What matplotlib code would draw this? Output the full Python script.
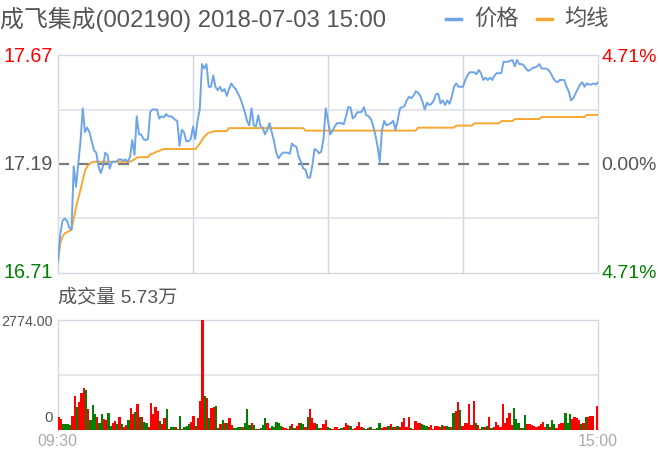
import matplotlib
matplotlib.use("Agg")
import matplotlib.pyplot as plt

plt.rcParams['font.family'] = ['Liberation Sans', 'Noto Sans CJK SC', 'DejaVu Sans']

W, H = 659, 457

title = "成飞集成(002190) 2018-07-03 15:00"
legend_labels = ["价格", "均线"]
pre_close = 17.19
y_max, y_min = 17.67, 16.71
left_labels = ["17.67", "17.19", "16.71"]
right_labels = ["4.71%", "0.00%", "4.71%"]
vol_title = "成交量 5.73万"
vol_max_label = "2774.00"
vol_max = 2774.0
time_labels = ["09:30", "15:00"]

price = [
    16.76, 16.88, 16.94, 16.95, 16.94, 16.91, 16.90, 17.18, 17.09, 17.19,
    17.29, 17.435, 17.33, 17.35, 17.33, 17.29, 17.25, 17.24, 17.18, 17.15,
    17.18, 17.24, 17.23, 17.17, 17.20, 17.20, 17.20, 17.21, 17.21, 17.205,
    17.21, 17.20, 17.22, 17.295, 17.23, 17.40, 17.32, 17.32, 17.30, 17.295,
    17.30, 17.42, 17.43, 17.43, 17.43, 17.39, 17.40, 17.395, 17.41, 17.40,
    17.40, 17.395, 17.385, 17.38, 17.27, 17.34, 17.33, 17.29, 17.29, 17.30,
    17.355, 17.30, 17.38, 17.43, 17.63, 17.61, 17.63, 17.53, 17.53, 17.58,
    17.53, 17.515, 17.53, 17.51, 17.52, 17.49, 17.52, 17.545, 17.53, 17.52,
    17.50, 17.48, 17.45, 17.42, 17.38, 17.36, 17.435, 17.36, 17.355, 17.405,
    17.355, 17.35, 17.32, 17.34, 17.37, 17.33, 17.29, 17.24, 17.215, 17.23,
    17.24, 17.24, 17.24, 17.235, 17.28, 17.27, 17.265, 17.22, 17.20, 17.17,
    17.165, 17.13, 17.13, 17.18, 17.256, 17.25, 17.237, 17.245, 17.30, 17.435,
    17.38, 17.32, 17.335, 17.355, 17.37, 17.37, 17.37, 17.365, 17.40, 17.44,
    17.44, 17.39, 17.40, 17.418, 17.418, 17.42, 17.44, 17.405, 17.40, 17.39,
    17.36, 17.32, 17.27, 17.20, 17.34, 17.38, 17.36, 17.365, 17.37, 17.38,
    17.34, 17.384, 17.435, 17.44, 17.445, 17.47, 17.486, 17.48, 17.49, 17.51,
    17.505, 17.49, 17.464, 17.43, 17.46, 17.45, 17.455, 17.47, 17.497, 17.50,
    17.457, 17.47, 17.45, 17.47, 17.455, 17.486, 17.53, 17.545, 17.53, 17.53,
    17.53, 17.56, 17.58, 17.594, 17.594, 17.594, 17.585, 17.604, 17.59, 17.56,
    17.57, 17.56, 17.57, 17.56, 17.58, 17.59, 17.59, 17.59, 17.64, 17.64,
    17.64, 17.645, 17.648, 17.62, 17.648, 17.63, 17.63, 17.625, 17.61, 17.60,
    17.605, 17.614, 17.615, 17.62, 17.63, 17.61, 17.61, 17.61, 17.604, 17.59,
    17.57, 17.555, 17.55, 17.56, 17.56, 17.56, 17.53, 17.51, 17.47, 17.48,
    17.50, 17.52, 17.54, 17.55, 17.53, 17.545, 17.54, 17.54, 17.545, 17.54,
    17.55,
]

avg = [
    16.76, 16.84, 16.87, 16.885, 16.89, 16.895, 16.90, 16.95, 17.00, 17.04,
    17.075, 17.12, 17.16, 17.18, 17.19, 17.197, 17.20, 17.20, 17.20, 17.20,
    17.20, 17.20, 17.20, 17.20, 17.20, 17.20, 17.20, 17.20, 17.20, 17.20,
    17.20, 17.20, 17.20, 17.205, 17.21, 17.218, 17.22, 17.22, 17.22, 17.22,
    17.22, 17.233, 17.235, 17.24, 17.245, 17.248, 17.252, 17.256, 17.256, 17.256,
    17.256, 17.256, 17.256, 17.256, 17.256, 17.256, 17.256, 17.256, 17.256, 17.256,
    17.256, 17.256, 17.266, 17.28, 17.295, 17.31, 17.32, 17.328, 17.33, 17.333,
    17.335, 17.335, 17.335, 17.335, 17.335, 17.335, 17.348, 17.348, 17.348, 17.348,
    17.348, 17.348, 17.348, 17.348, 17.348, 17.348, 17.348, 17.348, 17.348, 17.348,
    17.348, 17.348, 17.348, 17.348, 17.348, 17.348, 17.348, 17.348, 17.348, 17.348,
    17.348, 17.348, 17.348, 17.348, 17.348, 17.348, 17.348, 17.348, 17.348, 17.348,
    17.337, 17.337, 17.337, 17.337, 17.337, 17.337, 17.337, 17.337, 17.337, 17.337,
    17.337, 17.337, 17.337, 17.337, 17.337, 17.337, 17.337, 17.337, 17.337, 17.337,
    17.337, 17.337, 17.337, 17.337, 17.337, 17.337, 17.337, 17.337, 17.337, 17.337,
    17.337, 17.337, 17.337, 17.337, 17.337, 17.337, 17.337, 17.337, 17.337, 17.337,
    17.337, 17.337, 17.337, 17.337, 17.337, 17.337, 17.337, 17.337, 17.337, 17.337,
    17.35, 17.35, 17.35, 17.35, 17.35, 17.35, 17.35, 17.35, 17.35, 17.35,
    17.35, 17.35, 17.35, 17.35, 17.35, 17.35, 17.35, 17.359, 17.359, 17.359,
    17.359, 17.359, 17.359, 17.359, 17.359, 17.369, 17.369, 17.369, 17.369, 17.369,
    17.369, 17.369, 17.369, 17.369, 17.369, 17.369, 17.369, 17.379, 17.379, 17.379,
    17.379, 17.379, 17.379, 17.388, 17.388, 17.388, 17.388, 17.388, 17.388, 17.388,
    17.388, 17.388, 17.388, 17.388, 17.388, 17.397, 17.397, 17.397, 17.397, 17.397,
    17.397, 17.397, 17.397, 17.397, 17.397, 17.397, 17.397, 17.397, 17.397, 17.397,
    17.397, 17.397, 17.397, 17.397, 17.397, 17.406, 17.406, 17.406, 17.406, 17.406,
    17.406,
]

volume = [
    338, 270, 144, 144, 144, 127, 355, 863, 584, 694,
    930, 1057, 1015, 541, 254, 635, 406, 338, 186, 406,
    270, 254, 440, 110, 170, 228, 144, 338, 144, 85,
    127, 254, 550, 398, 465, 660, 338, 338, 195, 170,
    85, 677, 398, 575, 482, 237, 144, 296, 525, 25,
    85, 85, 85, 25, 364, 25, 68, 110, 144, 212,
    355, 100, 296, 736, 2774, 863, 804, 313, 550, 575,
    609, 42, 144, 254, 170, 170, 313, 127, 42, 42,
    68, 85, 68, 186, 525, 127, 170, 127, 25, 25,
    42, 127, 296, 170, 59, 100, 68, 212, 170, 110,
    68, 42, 25, 100, 144, 59, 110, 170, 186, 144,
    85, 338, 525, 296, 170, 144, 42, 42, 144, 254,
    85, 59, 25, 85, 68, 25, 59, 85, 170, 127,
    100, 25, 42, 110, 212, 85, 42, 25, 42, 85,
    25, 25, 42, 186, 42, 85, 85, 110, 144, 68,
    85, 110, 85, 212, 296, 85, 321, 59, 25, 237,
    170, 170, 144, 127, 110, 85, 127, 25, 110, 100,
    85, 127, 100, 100, 85, 68, 423, 490, 694, 508,
    110, 186, 186, 651, 127, 719, 170, 127, 25, 85,
    85, 100, 338, 59, 85, 195, 127, 85, 651, 186,
    296, 423, 127, 567, 270, 170, 42, 42, 380, 144,
    144, 127, 110, 85, 110, 144, 195, 68, 144, 68,
    254, 144, 59, 144, 170, 170, 440, 170, 398, 270,
    338, 296, 254, 144, 186, 338, 338, 356, 356, 0,
    610,
]

vol_colors = [
    'r','r','g','g','g','g','r','r','g','r',
    'r','r','g','r','g','g','g','r','g','g',
    'r','r','g','g','r','r','g','r','g','r',
    'r','g','r','r','g','r','g','r','g','g',
    'r','r','r','r','r','g','r','r','g','r',
    'g','g','r','g','g','r','g','g','g','r',
    'r','g','r','r','r','g','r','g','r','r',
    'g','g','r','g','r','g','r','r','g','g',
    'g','g','r','g','g','g','r','g','g','r',
    'g','g','g','r','r','g','g','g','g','g',
    'r','r','r','g','r','g','r','r','g','g',
    'r','g','r','r','r','g','g','r','r','r',
    'g','g','r','r','r','r','g','r','r','r',
    'g','r','r','r','r','r','g','g','r','g',
    'r','g','g','g','r','r','r','g','r','g',
    'r','g','r','r','r','r','r','g','r','r',
    'r','r','g','g','g','r','r','r','r','r',
    'r','g','r','g','g','r','g','r','r','g',
    'r','r','r','r','r','r','g','r','r','g',
    'r','g','r','g','r','r','r','r','r','r',
    'r','r','r','g','g','g','r','g','g','r',
    'r','r','r','r','r','r','r','r','g','r',
    'g','g','r','r','r','r','g','g','g','r',
    'r','r','r','g','r','g','r','r','r','r',
    'r',
]

RED = '#ff0000'
GREEN = '#008000'
BLUE = '#6ea5e9'
ORANGE = '#f8a831'
GRAY_TXT = '#555555'
GRID = '#dfe3ea'
BORDER = '#d3d9e3'

fig = plt.figure(figsize=(W / 100, H / 100), dpi=100)
fig.patch.set_facecolor('white')


def fx(x):
    return x / W


def fy(y):
    return 1 - y / H


# price panel
pl, pr, pt, pb = 58, 598, 55, 273
ax = fig.add_axes([fx(pl), fy(pb), (pr - pl) / W, (pb - pt) / H])
n = len(price)
xs = list(range(n))
ax.set_xlim(0, n - 1)
ax.set_ylim(y_min, y_max)
for sp in ax.spines.values():
    sp.set_color(BORDER)
    sp.set_linewidth(1.0)
ax.set_xticks([])
ax.set_yticks([])
for yv in [(y_max + pre_close) / 2, (y_min + pre_close) / 2]:
    ax.axhline(yv, color=GRID, lw=1.2, zorder=1)
for xv in [60, 120, 180]:
    ax.axvline(xv, color='#d0d6e2', lw=1.0, zorder=1)
ax.axhline(pre_close, color='#7a7a7a', lw=1.6, ls=(0, (5, 4)), zorder=2)
ax.plot(xs, price, color=BLUE, lw=1.4, zorder=4, solid_joinstyle='round')
ax.plot(xs, avg, color=ORANGE, lw=1.4, zorder=3)

# volume panel
vl, vr, vt, vb = 58, 598, 320, 430
axv = fig.add_axes([fx(vl), fy(vb), (vr - vl) / W, (vb - vt) / H])
axv.set_xlim(0, len(volume))
axv.set_ylim(0, vol_max)
for k, sp in axv.spines.items():
    sp.set_color(BORDER)
    sp.set_linewidth(1.0)
axv.spines['bottom'].set_visible(False)
axv.set_xticks([])
axv.set_yticks([])
axv.axhline(vol_max / 2, color=GRID, lw=1.2, zorder=1)
cols = [RED if c == 'r' else GREEN for c in vol_colors]
axv.bar(range(len(volume)), volume, width=1.0, align='edge', color=cols,
        linewidth=0, zorder=3)

fp = dict(family=['Liberation Sans', 'Noto Sans CJK SC'])

fig.text(fx(0), fy(19), title, fontsize=17.2, color=GRAY_TXT, va='center', ha='left', **fp)
# legend
fig.add_artist(plt.Line2D([fx(446), fx(461)], [fy(19), fy(19)], color=BLUE, lw=2.5))
fig.text(fx(474), fy(19), legend_labels[0], fontsize=16, color=GRAY_TXT, va='center', ha='left', **fp)
fig.add_artist(plt.Line2D([fx(537), fx(552)], [fy(19), fy(19)], color=ORANGE, lw=2.5))
fig.text(fx(564), fy(19), legend_labels[1], fontsize=16, color=GRAY_TXT, va='center', ha='left', **fp)

lab_y = [57, 165, 273]
lab_c = [RED, GRAY_TXT, GREEN]
for t, yy, c in zip(left_labels, lab_y, lab_c):
    fig.text(fx(53), fy(yy), t, fontsize=14.2, color=c, va='center', ha='right', **fp)
for t, yy, c in zip(right_labels, lab_y, lab_c):
    fig.text(fx(601), fy(yy), t, fontsize=14, color=c, va='center', ha='left', **fp)

fig.text(fx(58), fy(297), vol_title, fontsize=13.8, color=GRAY_TXT, va='center', ha='left', **fp)
fig.text(fx(53), fy(322), vol_max_label, fontsize=10.3, color=GRAY_TXT, va='center', ha='right', **fp)
fig.text(fx(53), fy(418), "0", fontsize=11, color=GRAY_TXT, va='center', ha='right', **fp)
fig.text(fx(57), fy(441), time_labels[0], fontsize=11.5, color='#aaaaaa', va='center', ha='center', **fp)
fig.text(fx(598), fy(441), time_labels[1], fontsize=11.5, color='#aaaaaa', va='center', ha='center', **fp)

fig.savefig('out.png', dpi=100, facecolor='white')
